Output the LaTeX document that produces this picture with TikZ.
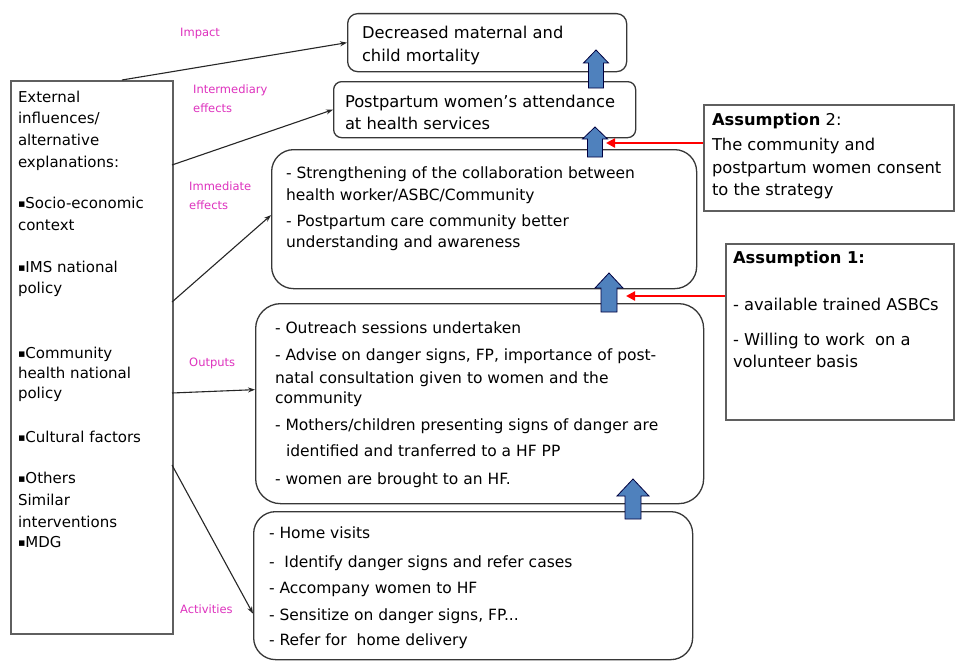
\documentclass[tikz,border=0pt]{standalone}
\usepackage{fontspec}
\setmainfont{DejaVu Sans}
\usetikzlibrary{arrows.meta,calc}
\definecolor{lblpink}{RGB}{222,50,190}
\definecolor{blkblue}{RGB}{79,129,189}
\definecolor{boxline}{RGB}{55,55,55}
\definecolor{sqline}{RGB}{95,95,95}
\newcommand\fsz[2]{\fontsize{#1}{#2}\selectfont}
\newcommand\mkln[2]{\baselineskip=#1pt\relax\hbox{#2}}
\newcommand\sqb{{\fontsize{11}{11}\selectfont\raisebox{0.5pt}{▪}}}
\tikzset{
  rbox/.style={draw=boxline, line width=1.3pt},
  sqbox/.style={draw=sqline, line width=1.9pt},
  txt/.style={anchor=base west, inner sep=0pt, outer sep=0pt},
  lbl/.style={anchor=base west, inner sep=0pt, text=lblpink, font=\fsz{11.5}{19}},
  conn/.style={draw=black!85, line width=1.1pt, -{Stealth[length=7pt,width=5pt]}},
  redarr/.style={draw=red, line width=2.6pt, -{Triangle[length=9pt,width=9pt]}},
  blockarr/.style={fill=blkblue, draw=black!75!blue, line width=0.8pt, line join=miter},
}
\newcommand\upblock[6]{% cx, tip, headbase, bottom, headhalf, shafthalf
  \draw[blockarr] (#1-#6,#4) -- (#1-#6,#3) -- (#1-#5,#3) -- (#1,#2) -- (#1+#5,#3) -- (#1+#6,#3) -- (#1+#6,#4) -- cycle;}
\begin{document}
\begin{tikzpicture}[x=1pt,y=-1pt]
\useasboundingbox[fill=white] (0,0) rectangle (955,661);

% boxes
\node[rbox, rounded corners=10pt, minimum width=279, minimum height=58, anchor=north west] (dec) at (347,13) {};
\node[rbox, rounded corners=8pt, minimum width=302, minimum height=56, anchor=north west] (post) at (333,81) {};
\node[rbox, rounded corners=22pt, minimum width=425, minimum height=139, anchor=north west] (imm) at (271,149) {};
\node[rbox, rounded corners=25pt, minimum width=448, minimum height=200, anchor=north west] (out) at (255,303) {};
\node[rbox, rounded corners=22pt, minimum width=439, minimum height=148, anchor=north west] (act) at (253,511) {};
\node[sqbox, minimum width=162, minimum height=553, anchor=north west] (ext) at (10,80) {};
\node[sqbox, minimum width=250, minimum height=106, anchor=north west] (as2) at (703,104) {};
\node[sqbox, minimum width=228, minimum height=176, anchor=north west] (as1) at (725,243) {};

% texts
\node[txt, font=\fsz{16.3}{24}] (tdec) at (362,38) {\vtop{\mkln{0}{Decreased maternal and}\mkln{24}{child mortality}}};
\node[txt, font=\fsz{16.3}{23}] (tpost) at (345,107) {\vtop{\mkln{0}{Postpartum women’s attendance}\mkln{22}{at health services}}};
\node[txt, font=\fsz{15.5}{22}] (timm) at (286,178) {\vtop{%
  \mkln{0}{- Strengthening of the collaboration between}%
  \mkln{22}{health worker/ASBC/Community}%
  \mkln{26}{- Postpartum care community better}%
  \mkln{21}{understanding and awareness}}};
\node[txt, font=\fsz{15.5}{22}] (tout) at (275,333) {\vtop{%
  \mkln{0}{- Outreach sessions undertaken}%
  \mkln{27}{- Advise on danger signs, FP, importance of post-}%
  \mkln{23}{natal consultation given to women and the}%
  \mkln{20}{community}%
  \mkln{27}{- Mothers/children presenting signs of danger are}%
  \mkln{26}{\hspace{11pt}identified and tranferred to a HF PP}%
  \mkln{28}{- women are brought to an HF.}}};
\node[txt, font=\fsz{15.5}{22}] (tact) at (269,538) {\vtop{%
  \mkln{0}{- Home visits}%
  \mkln{29}{-~ Identify danger signs and refer cases}%
  \mkln{26}{- Accompany women to HF}%
  \mkln{27}{- Sensitize on danger signs, FP...}%
  \mkln{25}{- Refer for~ home delivery}}};
\node[txt, font=\fsz{15}{21.7}] (text) at (18,102) {\vtop{%
  \mkln{0}{External}%
  \mkln{21}{influences/}%
  \mkln{22}{alternative}%
  \mkln{22}{explanations:}%
  \mkln{41}{\sqb Socio-economic}%
  \mkln{22}{context}%
  \mkln{42}{\sqb IMS national}%
  \mkln{21}{policy}%
  \mkln{65}{\sqb Community}%
  \mkln{20}{health national}%
  \mkln{20}{policy}%
  \mkln{44}{\sqb Cultural factors}%
  \mkln{41}{\sqb Others}%
  \mkln{22}{Similar}%
  \mkln{22}{interventions}%
  \mkln{20}{\sqb MDG}}};
\node[txt, font=\fsz{16.3}{23}] (tas2) at (712,125) {\vtop{%
  \mkln{0}{\textbf{Assumption} 2:}%
  \mkln{25}{The community and}%
  \mkln{23}{postpartum women consent}%
  \mkln{22}{to the strategy}}};
\node[txt, font=\fsz{16.3}{23}] (tas1) at (733,263) {\vtop{%
  \mkln{0}{\textbf{Assumption 1:}}%
  \mkln{47}{- available trained ASBCs}%
  \mkln{35}{- Willing to work~ on a}%
  \mkln{22}{volunteer basis}}};

% magenta level labels
\node[lbl] (limp) at (180,37) {Impact};
\node[lbl] (lint) at (193,93) {\vtop{\mkln{0}{Intermediary}\mkln{19}{effects}}};
\node[lbl] (limm) at (189,190) {\vtop{\mkln{0}{Immediate}\mkln{19}{effects}}};
\node[lbl] (lout) at (189,366) {Outputs};
\node[lbl] (lact) at (180,613) {Activities};

% connectors from external box
\coordinate (e1) at (122,80);
\coordinate (e2) at (172,165);
\coordinate (e3) at (172,302);
\coordinate (e4) at (172,393);
\coordinate (e5) at (172,465);
\draw[conn] (e1) -- (dec.west);
\draw[conn] (e2) -- (post.west);
\draw[conn] (e3) -- ($(imm.west)+(0,-4)$);
\draw[conn] (e4) -- ($(out.west)+(0,-14)$);
\draw[conn] (e5) -- ($(act.west)+(0,28)$);

% blue block arrows
\upblock{596}{50}{63}{88}{12.5}{7.5}
\upblock{595}{127}{139}{157}{12.5}{7.5}
\upblock{609}{273}{288}{312}{14}{8}
\upblock{633}{479}{496}{519}{16}{8}

% red assumption arrows
\coordinate (r2) at (606,143);
\coordinate (r1) at (626,296);
\draw[redarr] (as2.west |- r2) -- (r2);
\draw[redarr] (as1.west |- r1) -- (r1);
\end{tikzpicture}
\end{document}
